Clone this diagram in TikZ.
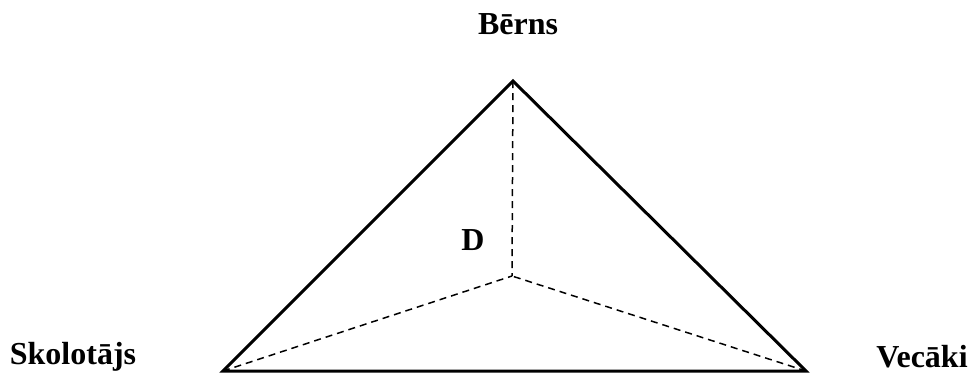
\documentclass[tikz,border=0pt]{standalone}
\usepackage{fontspec}
\setmainfont{Liberation Serif}
\usepackage{tikz}
\usetikzlibrary{positioning, calc}
\tikzset{
	sidenode/.style={
			draw=none,
			inner sep=0pt,
			text=black,
			font=\bfseries\fontsize{32}{34}\selectfont
		},
	innernode/.style={
			sidenode,
			font=\bfseries\fontsize{32}{34}\selectfont
		},
	edgeline/.style={
			line width=3pt,
			line join=miter
		},
	innerline/.style={
			line width=1.5pt,
			dash pattern=on 7pt off 5pt
		}
}
\begin{document}
\begin{tikzpicture}[x=1pt,y=-1pt]
\useasboundingbox (0,0) rectangle (974,373);

\coordinate (tB) at (513,81);
\coordinate (tS) at (223,371);
\coordinate (tV) at (806,371);
\coordinate (tC) at (512,276);

\node[sidenode] (lB) at (518,24) {Bērns};
\node[sidenode] (lS) at (73,357) {Skolotājs};
\node[sidenode] (lV) at (922,357) {Vecāki};
\node[innernode] (lD) at (473,240) {D};

\draw[innerline] (tB) -- (tC);
\draw[innerline] (tS) -- (tC);
\draw[innerline] (tV) -- (tC);

\draw[edgeline] (tS) -- (tB) -- (tV) -- cycle;

\end{tikzpicture}
\end{document}
